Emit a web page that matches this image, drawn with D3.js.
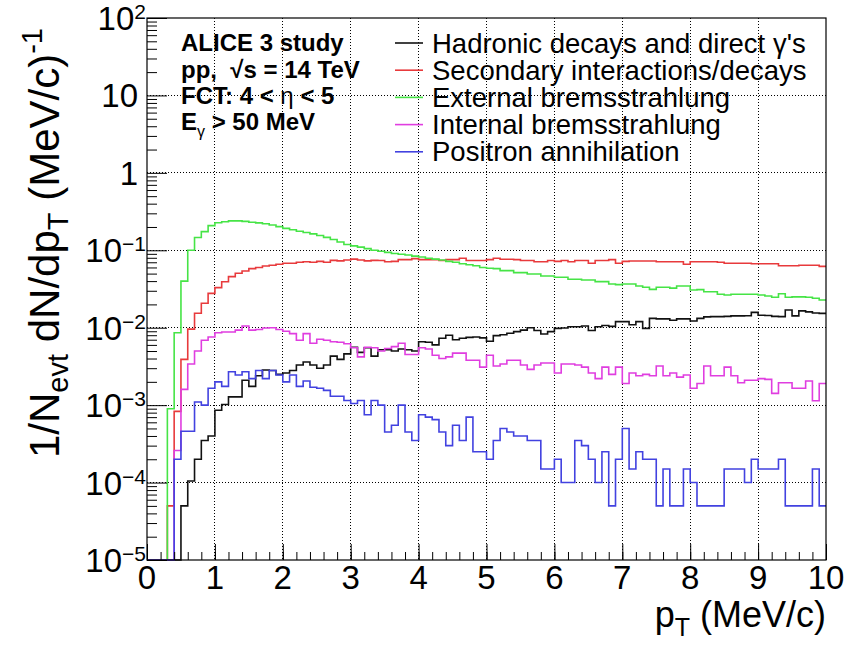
<!DOCTYPE html>
<html>
<head>
<meta charset="utf-8">
<script src="https://cdn.jsdelivr.net/npm/d3@7"></script>
<style>
  html, body { margin: 0; padding: 0; background: #ffffff; }
  svg { display: block; font-family: "Liberation Sans", Arial, Helvetica, sans-serif; }
</style>
</head>
<body>
<svg id="chart" width="844" height="646"></svg>
<script>
// ---- data: 100 bins of 0.1 MeV/c in pT, values are 1/Nevt dN/dpT ----
const binLowEdges = d3.range(100).map(i => i / 10);
const ptMax = 10;

const hadronic = [
  0, 0, 0, 0, 0, 5e-5, 1.05e-4, 2.0e-4, 3.5e-4, 4.0e-4,
  8.6e-4, 1.02e-3, 1.28e-3, 1.28e-3, 2.1e-3, 1.75e-3, 2.4e-3, 2.85e-3, 2.8e-3, 2.5e-3,
  2.6e-3, 2.8e-3, 3.3e-3, 3.6e-3, 3.3e-3, 3.0e-3, 3.3e-3, 4.3e-3, 3.9e-3, 4.6e-3,
  5.6e-3, 4.8e-3, 5.5e-3, 4.3e-3, 5.2e-3, 5.2e-3, 5.0e-3, 5.3e-3, 5.2e-3, 5.0e-3,
  6.6e-3, 6.5e-3, 6.0e-3, 7.3e-3, 8.0e-3, 7.0e-3, 7.3e-3, 7.5e-3, 7.6e-3, 7.4e-3,
  6.7e-3, 7.9e-3, 8.1e-3, 8.5e-3, 8.9e-3, 9.3e-3, 1.0e-2, 9.2e-3, 8.3e-3, 8.9e-3,
  9.8e-3, 9.9e-3, 1.03e-2, 1.03e-2, 1.05e-2, 9.2e-3, 1.03e-2, 1.07e-2, 1.04e-2, 1.2e-2,
  1.2e-2, 1.09e-2, 1.2e-2, 9.8e-3, 1.32e-2, 1.3e-2, 1.3e-2, 1.25e-2, 1.3e-2, 1.3e-2,
  1.22e-2, 1.32e-2, 1.38e-2, 1.39e-2, 1.39e-2, 1.4e-2, 1.42e-2, 1.42e-2, 1.43e-2, 1.58e-2,
  1.45e-2, 1.44e-2, 1.4e-2, 1.39e-2, 1.69e-2, 1.42e-2, 1.65e-2, 1.6e-2, 1.55e-2, 1.53e-2
];

const secondary = [
  0, 0, 0, 5e-5, 8.3e-4, 3.9e-3, 9.6e-3, 0.0154, 0.0207, 0.0278,
  0.0329, 0.0393, 0.0457, 0.0505, 0.054, 0.058, 0.060, 0.0626, 0.064, 0.066,
  0.068, 0.068, 0.070, 0.071, 0.070, 0.072, 0.070, 0.074, 0.073, 0.075,
  0.077, 0.075, 0.073, 0.074, 0.0738, 0.071, 0.072, 0.0757, 0.0757, 0.078,
  0.0757, 0.0757, 0.0757, 0.0738, 0.0757, 0.0757, 0.079, 0.0738, 0.0738, 0.0738,
  0.0757, 0.079, 0.0765, 0.0765, 0.0757, 0.0738, 0.0738, 0.071, 0.071, 0.0738,
  0.072, 0.0738, 0.071, 0.0738, 0.0738, 0.068, 0.0738, 0.0738, 0.0757, 0.068,
  0.072, 0.0727, 0.0727, 0.0727, 0.0727, 0.071, 0.071, 0.071, 0.071, 0.066,
  0.071, 0.071, 0.071, 0.071, 0.070, 0.068, 0.068, 0.068, 0.068, 0.067,
  0.067, 0.067, 0.067, 0.063, 0.063, 0.063, 0.064, 0.064, 0.064, 0.062
];

const externalBrems = [
  0, 0, 0, 9e-4, 8.6e-3, 0.040, 0.100, 0.146, 0.174, 0.208,
  0.227, 0.234, 0.240, 0.240, 0.236, 0.230, 0.226, 0.220, 0.212, 0.202,
  0.192, 0.184, 0.176, 0.170, 0.163, 0.155, 0.147, 0.138, 0.128, 0.119,
  0.114, 0.110, 0.105, 0.100, 0.097, 0.094, 0.091, 0.089, 0.087, 0.084,
  0.082, 0.079, 0.077, 0.075, 0.072, 0.070, 0.067, 0.065, 0.063, 0.060,
  0.0585, 0.058, 0.0546, 0.0546, 0.0514, 0.0514, 0.0494, 0.0494, 0.0466, 0.0466,
  0.0448, 0.0448, 0.0422, 0.0422, 0.0414, 0.0414, 0.0394, 0.0394, 0.0367, 0.036,
  0.0367, 0.0367, 0.0346, 0.0333, 0.0313, 0.0333, 0.0333, 0.0325, 0.0346, 0.0346,
  0.0307, 0.031, 0.0292, 0.0292, 0.027, 0.0264, 0.027, 0.027, 0.027, 0.027,
  0.0264, 0.0257, 0.0247, 0.0275, 0.0247, 0.025, 0.025, 0.0247, 0.024, 0.0228
];

const internalBrems = [
  0, 0, 0, 0, 2.6e-4, 1.6e-3, 3.4e-3, 5.0e-3, 6.9e-3, 7.6e-3,
  8.6e-3, 8.8e-3, 8.8e-3, 9.3e-3, 1.05e-2, 9.3e-3, 9.5e-3, 9.9e-3, 1.0e-2, 9.5e-3,
  9.0e-3, 8.4e-3, 6.9e-3, 8.4e-3, 6.3e-3, 7.1e-3, 6.9e-3, 6.6e-3, 6.5e-3, 6.2e-3,
  5.5e-3, 4.2e-3, 5.6e-3, 5.5e-3, 5.0e-3, 5.4e-3, 5.7e-3, 6.3e-3, 4.5e-3, 4.5e-3,
  5.5e-3, 5.3e-3, 4.4e-3, 4.0e-3, 4.2e-3, 4.7e-3, 4.7e-3, 3.8e-3, 3.8e-3, 3.1e-3,
  4.4e-3, 3.2e-3, 3.4e-3, 3.8e-3, 3.8e-3, 3.3e-3, 2.9e-3, 3.3e-3, 3.5e-3, 3.5e-3,
  2.6e-3, 3.4e-3, 3.4e-3, 3.3e-3, 3.1e-3, 2.6e-3, 2.2e-3, 3.1e-3, 2.5e-3, 3.1e-3,
  1.9e-3, 2.6e-3, 2.4e-3, 2.5e-3, 2.4e-3, 3.2e-3, 2.4e-3, 2.6e-3, 2.3e-3, 2.45e-3,
  1.65e-3, 1.9e-3, 3.2e-3, 2.4e-3, 2.4e-3, 3.1e-3, 2.4e-3, 1.95e-3, 2.1e-3, 2.1e-3,
  2.2e-3, 2.15e-3, 1.42e-3, 1.95e-3, 1.95e-3, 1.65e-3, 1.65e-3, 2.05e-3, 1.14e-3, 1.9e-3
];

const positronAnnihilation = [
  0, 0, 0, 0, 2.0e-4, 4.6e-4, 4.6e-4, 1.1e-3, 1.0e-3, 1.65e-3,
  2.0e-3, 1.75e-3, 2.7e-3, 2.45e-3, 2.7e-3, 2.2e-3, 2.8e-3, 2.2e-3, 2.8e-3, 2.45e-3,
  2.0e-3, 2.45e-3, 1.75e-3, 2.05e-3, 1.7e-3, 1.65e-3, 1.55e-3, 1.3e-3, 1.3e-3, 1.15e-3,
  1.05e-3, 1.15e-3, 7.5e-4, 1.15e-3, 1.0e-3, 4.5e-4, 5.5e-4, 1.0e-3, 4.5e-4, 3.5e-4,
  7.5e-4, 7.0e-4, 6.5e-4, 4.5e-4, 3.0e-4, 5.5e-4, 3.5e-4, 7.0e-4, 2.5e-4, 2.5e-4,
  2.0e-4, 3.5e-4, 5.0e-4, 4.5e-4, 4.0e-4, 4.0e-4, 3.5e-4, 3.5e-4, 1.5e-4, 1.5e-4,
  2.0e-4, 1.0e-4, 1.0e-4, 3.5e-4, 3.0e-4, 2.0e-4, 1.0e-4, 2.5e-4, 5e-5, 2.0e-4,
  5.0e-4, 1.5e-4, 2.5e-4, 2.0e-4, 2.0e-4, 5e-5, 1.5e-4, 5e-5, 5e-5, 1.5e-4,
  1.0e-4, 5e-5, 5e-5, 5e-5, 5e-5, 1.5e-4, 1.5e-4, 1.5e-4, 1.0e-4, 2.0e-4,
  1.5e-4, 1.5e-4, 1.5e-4, 2.0e-4, 5e-5, 5e-5, 5e-5, 5e-5, 1.5e-4, 5e-5
];

const seriesLabels = [
  "Hadronic decays and direct \u03b3's",
  "Secondary interactions/decays",
  "External bremsstrahlung",
  "Internal bremsstrahlung",
  "Positron annihilation"
];
const seriesColors = ["#111111", "#e83a3c", "#46e446", "#e03ee0", "#4242e0"];
const seriesValues = [hadronic, secondary, externalBrems, internalBrems, positronAnnihilation];

const xTickValues = [0, 1, 2, 3, 4, 5, 6, 7, 8, 9, 10];
const yDecades = [1e-5, 1e-4, 1e-3, 1e-2, 1e-1, 1, 10, 100];

// ---- layout ----
const svg = d3.select("#chart");
const frame = { left: 147, right: 826, top: 18, bottom: 560 };
const yMin = 1e-5, yMax = 1e2;

const x = d3.scaleLinear().domain([0, ptMax]).range([frame.left, frame.right]);
const y = d3.scaleLog().domain([yMin, yMax]).range([frame.bottom, frame.top]);

svg.append("rect").attr("width", 844).attr("height", 646).attr("fill", "#ffffff");

// dotted grid
const grid = svg.append("g").attr("stroke", "#000").attr("stroke-width", 1)
  .attr("stroke-dasharray", "1,2").attr("shape-rendering", "crispEdges");
xTickValues.filter(v => v > 0 && v < ptMax).forEach(v => {
  grid.append("line").attr("x1", x(v)).attr("x2", x(v)).attr("y1", frame.top).attr("y2", frame.bottom);
});
yDecades.filter(v => v > yMin && v < yMax).forEach(v => {
  grid.append("line").attr("x1", frame.left).attr("x2", frame.right).attr("y1", y(v)).attr("y2", y(v));
});

// histograms drawn as steps
svg.append("clipPath").attr("id", "plotClip").append("rect")
  .attr("x", frame.left).attr("y", frame.top)
  .attr("width", frame.right - frame.left).attr("height", frame.bottom - frame.top + 1);

const stepLine = d3.line()
  .x(d => x(d[0]))
  .y(d => y(Math.max(d[1], yMin)))
  .curve(d3.curveStepAfter);

const hists = svg.append("g").attr("clip-path", "url(#plotClip)");
seriesValues.forEach((vals, k) => {
  const pts = binLowEdges.map((e, i) => [e, vals[i]]);
  pts.push([ptMax, vals[vals.length - 1]]);
  hists.append("path")
    .attr("d", stepLine(pts))
    .attr("fill", "none")
    .attr("stroke", seriesColors[k])
    .attr("stroke-width", 1.6);
});

// axes: ticks pointing into the frame
const xMajor = d3.axisBottom(x).tickValues(xTickValues).tickSizeInner(-16).tickSizeOuter(0).tickFormat("");
const xMinor = d3.axisBottom(x).tickValues(d3.range(0, 50).map(i => i / 5)).tickSizeInner(-8).tickSizeOuter(0).tickFormat("");
svg.append("g").attr("transform", `translate(0,${frame.bottom})`).call(xMinor);
svg.append("g").attr("transform", `translate(0,${frame.bottom})`).call(xMajor);

const yMinorVals = [];
yDecades.slice(0, -1).forEach(d => { for (let m = 2; m <= 9; m++) yMinorVals.push(d * m); });
const yMajor = d3.axisLeft(y).tickValues(yDecades).tickSizeInner(-20).tickSizeOuter(0).tickFormat("");
const yMinor = d3.axisLeft(y).tickValues(yMinorVals).tickSizeInner(-10).tickSizeOuter(0).tickFormat("");
svg.append("g").attr("transform", `translate(${frame.left},0)`).call(yMinor);
svg.append("g").attr("transform", `translate(${frame.left},0)`).call(yMajor);
svg.selectAll(".domain").remove();
svg.selectAll(".tick line").attr("stroke", "#000").attr("stroke-width", 1);

// frame
svg.append("rect")
  .attr("x", frame.left).attr("y", frame.top)
  .attr("width", frame.right - frame.left).attr("height", frame.bottom - frame.top)
  .attr("fill", "none").attr("stroke", "#000").attr("stroke-width", 1.2);

// x tick labels
svg.append("g").selectAll("text").data(xTickValues).join("text")
  .attr("x", d => x(d)).attr("y", 589)
  .attr("text-anchor", "middle").attr("font-size", 33).attr("fill", "#000")
  .text(d => d);

// y tick labels with powers of ten
yDecades.forEach(d => {
  const p = Math.round(Math.log10(d));
  const t = svg.append("text").attr("y", y(d) + 12).attr("font-size", 33)
    .attr("text-anchor", "end").attr("fill", "#000");
  if (p === 0) { t.attr("x", 138).text("1"); }
  else if (p === 1) { t.attr("x", 138).text("10"); }
  else {
    t.attr("x", 146);
    t.append("tspan").text("10");
    t.append("tspan").attr("dy", -11).attr("font-size", 21).text(p < 0 ? "\u2212" + (-p) : String(p));
  }
});

// axis titles
const yTitle = svg.append("text")
  .attr("transform", "translate(59,28) rotate(-90)")
  .attr("text-anchor", "end").attr("font-size", 42).attr("fill", "#000");
yTitle.append("tspan").text("1/N");
yTitle.append("tspan").attr("dy", 9).attr("font-size", 29).text("evt");
yTitle.append("tspan").attr("dy", -9).text(" dN/dp");
yTitle.append("tspan").attr("dy", 9).attr("font-size", 29).text("T");
yTitle.append("tspan").attr("dy", -9).text(" (MeV/c)");
yTitle.append("tspan").attr("dy", -17).attr("font-size", 29).text("-1");

const xTitle = svg.append("text")
  .attr("x", frame.right).attr("y", 627)
  .attr("text-anchor", "end").attr("font-size", 36).attr("fill", "#000");
xTitle.append("tspan").text("p");
xTitle.append("tspan").attr("dy", 9).attr("font-size", 25).text("T");
xTitle.append("tspan").attr("dy", -9).text(" (MeV/c)");

// info text block
const info = svg.append("g").attr("font-weight", "bold").attr("font-size", 24).attr("fill", "#000");
info.append("text").attr("x", 181).attr("y", 51).text("ALICE 3 study");
info.append("text").attr("x", 181).attr("y", 78).text("pp,\u00a0\u00a0\u221As = 14 TeV");
const fct = info.append("text").attr("x", 181).attr("y", 104);
fct.append("tspan").text("FCT: 4 < ");
fct.append("tspan").attr("font-weight", "normal").text("\u03b7");
fct.append("tspan").text(" < 5");
const eg = info.append("text").attr("x", 181).attr("y", 130);
eg.append("tspan").text("E");
eg.append("tspan").attr("dy", 7).attr("font-size", 16).attr("font-weight", "normal").text("\u03b3");
eg.append("tspan").attr("dy", -7).text(" > 50 MeV");

// legend
const legend = svg.append("g");
seriesLabels.forEach((label, k) => {
  const ly = 43 + k * 27.2;
  legend.append("line").attr("x1", 395).attr("x2", 423).attr("y1", ly).attr("y2", ly)
    .attr("stroke", seriesColors[k]).attr("stroke-width", 1.6);
  legend.append("text").attr("x", 432).attr("y", ly + 9.5)
    .attr("font-size", 27.5).attr("fill", "#000").text(label);
});
</script>
</body>
</html>
